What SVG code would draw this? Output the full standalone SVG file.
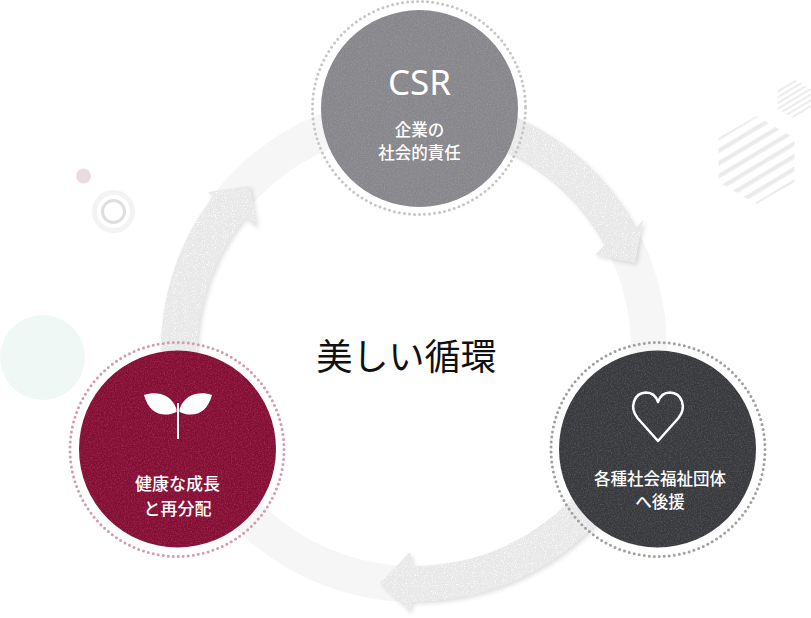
<svg xmlns="http://www.w3.org/2000/svg" width="811" height="618" viewBox="0 0 811 618">
<style>
.t{font-family:"Noto Sans CJK JP","Noto Sans",sans-serif;fill:#fff;text-anchor:middle;font-size:16.5px;font-weight:500}
.dot{fill:none;stroke-width:3;stroke-linecap:round;stroke-dasharray:0 5.05}
.arrow{fill:#e8e8e8;filter:url(#arrowFx)}
.disc{filter:url(#discFx)}
</style>
<defs>
<filter id="arrowFx" x="-15%" y="-15%" width="130%" height="130%" color-interpolation-filters="sRGB">
<feTurbulence type="fractalNoise" baseFrequency="0.9" numOctaves="2" seed="4" result="n"/>
<feColorMatrix in="n" type="matrix" values="0 0 0 0 1  0 0 0 0 1  0 0 0 0 1  3 0 0 0 -1.55" result="s"/>
<feComposite in="s" in2="SourceAlpha" operator="in" result="sp"/>
<feDropShadow in="SourceGraphic" dx="2" dy="2" stdDeviation="2" flood-color="#000" flood-opacity="0.12" result="d"/>
<feMerge><feMergeNode in="d"/><feMergeNode in="sp"/></feMerge>
</filter>
<filter id="discFx" x="0" y="0" width="100%" height="100%" color-interpolation-filters="sRGB">
<feTurbulence type="fractalNoise" baseFrequency="0.7" numOctaves="2" seed="9" result="n"/>
<feColorMatrix in="n" type="matrix" values="0 0 0 0 1  0 0 0 0 1  0 0 0 0 1  0.3 0 0 0 -0.12" result="s"/>
<feComposite in="s" in2="SourceAlpha" operator="in" result="sp"/>
<feMerge><feMergeNode in="SourceGraphic"/><feMergeNode in="sp"/></feMerge>
</filter>
<clipPath id="hexL"><polygon points="756.5,116 794.5,138 794.5,182 756.5,204 718.5,182 718.5,138"/></clipPath>
<clipPath id="hexS"><polygon points="794.5,79.5 811,89 811,109 794.5,118.5 777.5,109 777.5,89"/></clipPath>
<pattern id="stripeL" width="10.9" height="10.9" patternUnits="userSpaceOnUse" patternTransform="rotate(-31 756 160)"><rect width="10.9" height="4.2" fill="#ebebeb"/></pattern>
<pattern id="stripeS" width="4.9" height="4.9" patternUnits="userSpaceOnUse" patternTransform="rotate(-31 794 99)"><rect width="4.9" height="1.9" fill="#ebebeb"/></pattern>
</defs>

<g id="decorations">
<circle cx="83.5" cy="176" r="7.5" fill="#ecdbe1"/>
<circle cx="113.5" cy="211.5" r="19" fill="none" stroke="#f3f3f3" stroke-width="5"/>
<circle cx="113.5" cy="211.5" r="11" fill="none" stroke="#dedede" stroke-width="3"/>
<circle cx="42.5" cy="357.5" r="42.5" fill="#eff8f5"/>
<rect x="715" y="112" width="84" height="96" fill="url(#stripeL)" clip-path="url(#hexL)"/>
<rect x="775" y="76" width="36" height="46" fill="url(#stripeS)" clip-path="url(#hexS)"/>
</g>

<g id="connectors">
<circle cx="414" cy="349" r="235" fill="none" stroke="#f6f6f6" stroke-width="36"/>
<path class="arrow" d="M515,117 A253,253 0 0 1 636,228 L643,220 L635,263 L595,255 L604.6,245 A217,217 0 0 0 500,148 Z"/>
<path class="arrow" d="M600,520 A253,253 0 0 1 412,602 L410,612 L380,583 L410,552 L413,566 A217,217 0 0 0 580,490 Z"/>
<path class="arrow" d="M161,360 A253,253 0 0 1 213,197 L208,192 L250,186 L257,227 L245,218 A217,217 0 0 0 197,360 Z"/>
</g>

<text id="title" x="406.5" y="370" style="font-family:'Noto Sans CJK JP','Noto Sans',sans-serif;font-size:36px;fill:#111;text-anchor:middle">美しい循環</text>

<g id="node-csr">
<circle class="dot" cx="419" cy="108" r="106.5" stroke="#c6c6c6"/>
<circle class="disc" cx="419.5" cy="108.5" r="98.5" fill="#87868b"/>
<text x="419.5" y="95" style="font-family:'Noto Sans',sans-serif;font-size:35px;font-weight:400;fill:#fff;text-anchor:middle">CSR</text>
<text class="t" x="419.5" y="136">企業の</text>
<text class="t" x="419.5" y="159">社会的責任</text>
</g>

<g id="node-welfare">
<circle class="dot" cx="658" cy="449.5" r="107" stroke="#a0a0a0"/>
<circle class="disc" cx="657.5" cy="449" r="98.5" fill="#37393c"/>
<path d="M658,441 L637.5,418 C629,407 634,393 646,392.5 C652,392.5 656,396 658,402 C660,396 664,392.5 670,392.5 C682,393 687,407 678.5,418 Z" fill="none" stroke="#fff" stroke-width="2.5" stroke-linejoin="round"/>
<text class="t" x="660" y="485">各種社会福祉団体</text>
<text class="t" x="660" y="508">へ後援</text>
</g>

<g id="node-growth">
<circle class="dot" cx="177" cy="449.5" r="107" stroke="#d29bb0"/>
<circle class="disc" cx="177.5" cy="449" r="98.5" fill="#850d33"/>
<path d="M144,395 C155,391 171,393 176.5,409 L176.5,412 C163,418 149,414 144,395 Z" fill="#fff"/>
<path d="M212,395 C201,391 185,393 179.5,409 L179.5,412 C193,418 207,414 212,395 Z" fill="#fff"/>
<rect x="177" y="403" width="2" height="36" fill="#fff"/>
<text class="t" x="177.5" y="490" style="font-size:17px">健康な成長</text>
<text class="t" x="177.5" y="515" style="font-size:17px">と再分配</text>
</g>
</svg>
